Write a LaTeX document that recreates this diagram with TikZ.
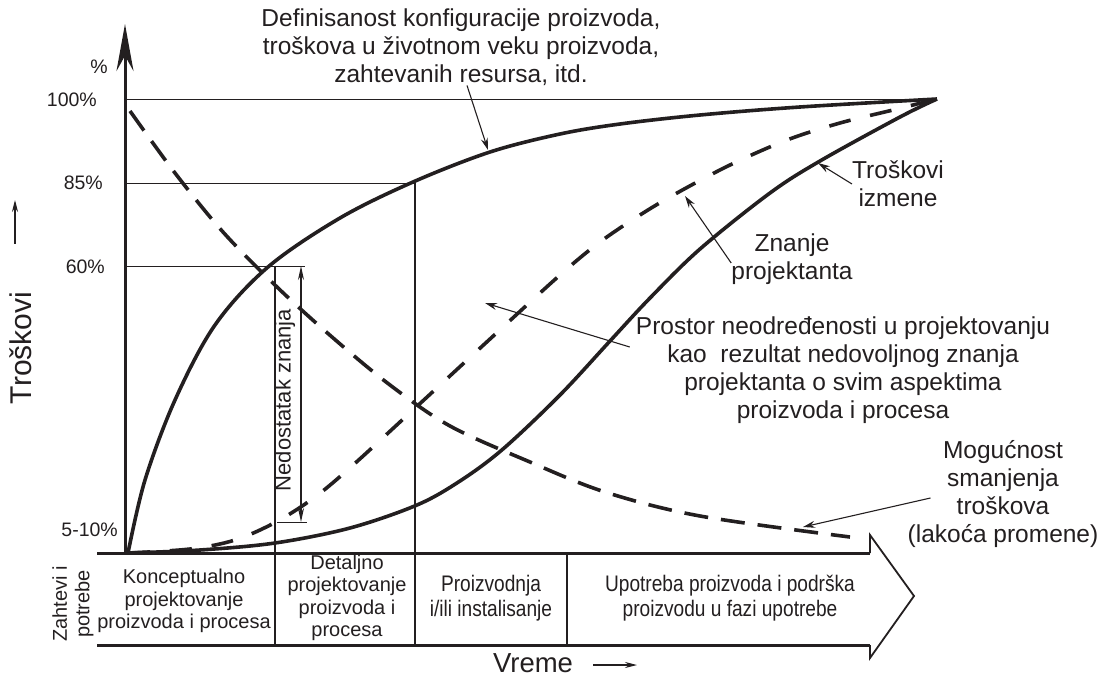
\documentclass[tikz,border=0pt]{standalone}
\usepackage{fontspec}
\setmainfont{Liberation Sans}
\newfontfamily\narrowfont[FakeStretch=0.85]{Liberation Sans}
\usetikzlibrary{arrows.meta, positioning}
\definecolor{ink}{HTML}{231F20}

\begin{document}
\begin{tikzpicture}[
  x=1pt, y=-1pt,
  every node/.style={text=ink},
  curve/.style={draw=ink, line width=3.6pt},
  dashcurve/.style={curve, dash pattern=on 22pt off 20pt},
  guide/.style={draw=ink, line width=1pt},
  phase/.style={draw=ink, line width=1.2pt},
  callout/.style={draw=ink, line width=1.1pt, -{Stealth[length=12pt,width=7pt]}},
  note/.style={font=\fontsize{24.5}{27.8}\selectfont, align=center, inner sep=0pt},
  pct/.style={font=\fontsize{19.5}{22}\selectfont, anchor=east, inner sep=0pt},
  cell/.style={font=\fontsize{20}{22.5}\selectfont, align=center, inner sep=0pt},
  narrowcell/.style={font=\narrowfont\fontsize{22.5}{25}\selectfont, align=center, inner sep=0pt}
]
\useasboundingbox (0,0) rectangle (1098,680);

% === AXIS ===
\coordinate (origin) at (125,553);
\coordinate (ytop) at (125,24);
\coordinate (peak) at (937,99);
\draw[ink, line width=3pt, -{Stealth[length=47pt,width=17pt]}] (origin) -- (ytop);

\node[pct, anchor=center] (pp) at (99,67) {\%};
\node[pct] (p100) at (97,100) {100\%};
\node[pct] (p85) at (103,183) {85\%};
\node[pct] (p60) at (105,267) {60\%};
\node[pct] (p5) at (118,530) {5-10\%};

\node[font=\fontsize{30}{32}\selectfont, rotate=90, inner sep=0pt] (trosk) at (21,348) {Troškovi};
\coordinate (trosktip) at (15,200);
\draw[ink, line width=1.2pt, -{Stealth[length=12pt,width=6pt]}] ([xshift=-6pt,yshift=48pt]trosk.east) -- (trosktip);

% Level lines
\coordinate (k85) at (415,183);
\coordinate (k60) at (305,266);
\draw[guide] (origin |- peak) -- (peak);
\draw[guide] (origin |- k85) -- (k85);
\draw[guide] (origin |- k60) -- (k60);

% Phase borders
\draw[phase] (275,266) -- (275,645);
\draw[phase] (k85) -- (415,645);
\draw[phase] (567,553) -- (567,645);

% === TIME ARROW (band) ===
\draw[ink, line width=3pt] (97,553) -- (870,553);
\draw[ink, line width=3pt] (97,645) -- (870,645);
\draw[ink, line width=1.8pt, line join=miter] (870,553) -- (870,535) -- (914,596) -- (870,658) -- (870,645);

\node[cell, rotate=90] (zaht) at (73,604) {Zahtevi i\\potrebe};
\node[cell] (konc) at (184,601) {Konceptualno\\projektovanje\\proizvoda i procesa};
\node[cell] (detal) at (347,598) {Detaljno\\projektovanje\\proizvoda i\\procesa};
\node[narrowcell] (proizv) at (491,598) {Proizvodnja\\i/ili instalisanje};
\node[narrowcell] (upot) at (730,598) {Upotreba proizvoda i podrška\\proizvodu u fazi upotrebe};

\node[font=\fontsize{27.5}{30}\selectfont, inner sep=0pt] (vreme) at (533,663) {Vreme};
\coordinate (vremetip) at (637,665);
\draw[ink, line width=1.2pt, -{Stealth[length=12pt,width=6pt]}] ([xshift=20pt,yshift=-2pt]vreme.east) -- (vremetip);

% === CURVES ===
% Definisanost (solid, steep)
\draw[curve] plot[smooth, tension=0.55] coordinates {(128,553) (145,480) (175,400) (215,325) (268,267) (340,218) (413,182) (490,152) (560,134) (620,124) (700,115) (800,107) (937,99)};
% Troskovi izmene (solid, S-shape)
\draw[curve] plot[smooth, tension=0.55] coordinates {(128,553) (200,550) (275,543) (350,528) (417,505) (460,481) (503,449) (560,395) (610,341) (650,298) (700,249) (770,193) (820,161) (900,117) (937,99)};
% Znanje projektanta (dashed, rising)
\draw[dashcurve] plot[smooth, tension=0.55] coordinates {(128,553) (190,549) (235,540) (276,522) (315,497) (352,466) (413,410) (490,339) (560,275) (600,242) (640,215) (677,193) (730,165) (787,140) (840,123) (893,110) (937,99)};
% Mogucnost smanjenja troskova (dashed, falling)
\draw[curve, dash pattern=on 24pt off 13pt] plot[smooth, tension=0.55] coordinates {(130,111) (175,173) (223,232) (277,287) (332,337) (390,385) (450,426) (530,462) (605,492) (700,516) (850,537)};

% === KNOWLEDGE GAP ===
\coordinate (gaptop) at (301,266);
\coordinate (gapbot) at (301,522);
\draw[ink, line width=1.3pt, {Stealth[length=14pt,width=6pt]}-{Stealth[length=14pt,width=6pt]}] (gaptop) -- (gapbot);
\draw[guide] (277,522) -- (307,522);
\node[font=\fontsize{22}{24}\selectfont, inner sep=0pt, rotate=90] (gap) at (285,400) {Nedostatak znanja};

% === LABELS ===
\node[note] (def) at (461,47) {Definisanost konfiguracije proizvoda,\\troškova u životnom veku proizvoda,\\zahtevanih resursa, itd.};
\coordinate (defhit) at (488,150);
\draw[callout] ([xshift=6pt]def.south) -- (defhit);

\node[note] (tizm) at (898,184) {Troškovi\\izmene};
\coordinate (tizmhit) at (818,163);
\draw[callout] (tizm.west) -- (tizmhit);

\node[note] (znanje) at (792,259) {Znanje\\projektanta};
\coordinate (znanjehit) at (685,196);
\draw[callout] ([yshift=-4pt]znanje.west) -- (znanjehit);

\node[note] (prostor) at (843,370) {Prostor neodređenosti u projektovanju\\kao\ \ rezultat nedovoljnog znanja\\projektanta o svim aspektima\\proizvoda i procesa};
\coordinate (prostorhit) at (485,303);
\draw[callout] ([xshift=-6pt,yshift=23pt]prostor.west) -- (prostorhit);

\node[note] (mog) at (1003,494) {Mogućnost\\smanjenja\\troškova\\(lakoća promene)};
\coordinate (moghit) at (803,527);
\draw[callout] ([xshift=23pt,yshift=-4pt]mog.west) -- (moghit);

\end{tikzpicture}
\end{document}
